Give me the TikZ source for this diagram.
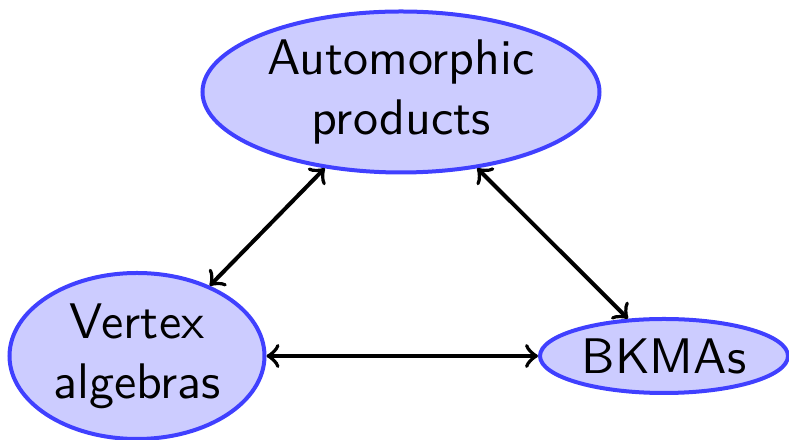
\documentclass[tikz,border=0pt]{standalone}
\usetikzlibrary{shapes.geometric}
\begin{document}
\begin{tikzpicture}[x=1pt,y=1pt,
  topic/.style={ellipse, draw=blue!75, fill=blue!20, thick, inner sep=0pt,
                align=center, font=\sffamily},
  link/.style={thick, <->}]
\useasboundingbox (0,0) rectangle (157.8,88);
\node[topic, minimum width=79.4pt, minimum height=32.2pt] (auto) at (80.2,69.6) {Automorphic\\products};
\node[topic, minimum width=51pt, minimum height=33.2pt] (vert) at (27.4,16.8) {Vertex\\algebras};
\node[topic, minimum width=49.6pt, minimum height=14.8pt] (bkma) at (132.8,16.8) {BKMAs};
\draw[link] (auto.225) -- (vert.44);
\draw[link] (auto.-45) -- (bkma.134);
\draw[link] (vert.east) -- (bkma.west);
\end{tikzpicture}
\end{document}
